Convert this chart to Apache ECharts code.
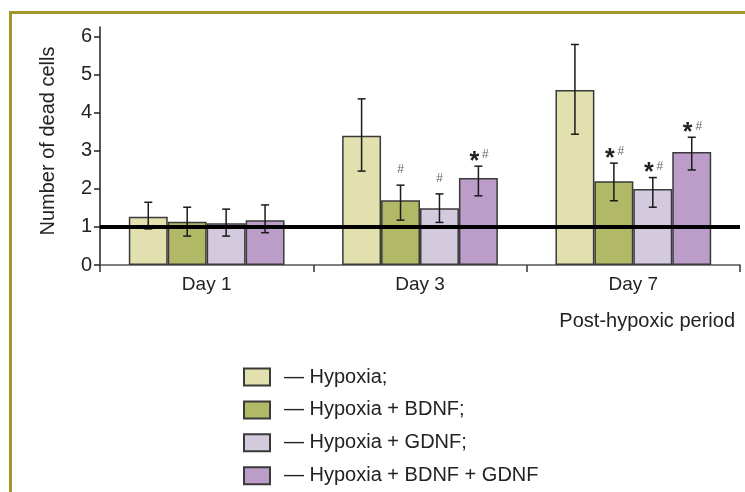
<!DOCTYPE html>
<html>
<head>
<meta charset="utf-8">
<script src="https://cdn.jsdelivr.net/npm/echarts@6/dist/echarts.min.js"></script>
<style>
html,body{margin:0;padding:0;background:#fff;}
#chart{width:745px;height:492px;}
</style>
</head>
<body>
<div id="chart"></div>
<script>
var categories = ['Day 1', 'Day 3', 'Day 7'];
var seriesNames = ['\u2014 Hypoxia;', '\u2014 Hypoxia + BDNF;', '\u2014 Hypoxia + GDNF;', '\u2014 Hypoxia + BDNF + GDNF'];
var hypoxia = [1.27, 3.40, 4.60];
var hypoxiaHigh = [1.65, 4.37, 5.80];
var hypoxiaLow = [0.95, 2.47, 3.44];
var bdnf = [1.14, 1.70, 2.20];
var bdnfHigh = [1.52, 2.10, 2.68];
var bdnfLow = [0.76, 1.18, 1.69];
var gdnf = [1.10, 1.49, 2.00];
var gdnfHigh = [1.47, 1.87, 2.30];
var gdnfLow = [0.76, 1.12, 1.52];
var both = [1.18, 2.29, 2.97];
var bothHigh = [1.58, 2.60, 3.36];
var bothLow = [0.85, 1.82, 2.50];
var hypoxiaMarks = ['', '', ''];
var bdnfMarks = ['', '#', '*#'];
var gdnfMarks = ['', '#', '*#'];
var bothMarks = ['', '*#', '*#'];
var yTicks = [0, 1, 2, 3, 4, 5, 6];
var referenceLevel = 1;
var xAxisTitle = 'Post-hypoxic period';
var yAxisTitle = 'Number of dead cells';

var colors = ['#e1e0ae', '#b1b967', '#d4cade', '#bc9dc9'];
var values = [hypoxia, bdnf, gdnf, both];
var highs = [hypoxiaHigh, bdnfHigh, gdnfHigh, bothHigh];
var lows = [hypoxiaLow, bdnfLow, gdnfLow, bothLow];
var marks = [hypoxiaMarks, bdnfMarks, gdnfMarks, bothMarks];
var FONT = '"Liberation Sans", Arial, sans-serif';
var GAP = 0.27;

var errData = [];
for (var s = 0; s < 4; s++) {
  for (var c = 0; c < categories.length; c++) {
    errData.push([c, s, lows[s][c], highs[s][c], marks[s][c]]);
  }
}

var series = [];
for (var i = 0; i < 4; i++) {
  series.push({
    name: seriesNames[i],
    type: 'bar',
    data: values[i],
    barGap: '0%',
    barCategoryGap: (GAP * 100) + '%',
    itemStyle: { color: colors[i], borderColor: '#3a3a3a', borderWidth: 1.5 },
    emphasis: { disabled: true },
    z: 2
  });
}
series.push({
  type: 'custom',
  data: errData,
  z: 4,
  silent: true,
  renderItem: function (params, api) {
    var c = api.value(0), s = api.value(1);
    var band = api.size([1, 0])[0];
    var groupW = band * (1 - GAP);
    var bw = groupW / 4;
    var center = api.coord([c, 0])[0];
    var x = center - groupW / 2 + bw * (s + 0.5);
    var yLo = api.coord([c, api.value(2)])[1];
    var yHi = api.coord([c, api.value(3)])[1];
    var cap = 4;
    var st = { stroke: '#1a1a1a', lineWidth: 1.5 };
    var children = [
      { type: 'line', shape: { x1: x, y1: yLo, x2: x, y2: yHi }, style: st },
      { type: 'line', shape: { x1: x - cap, y1: yHi, x2: x + cap, y2: yHi }, style: st },
      { type: 'line', shape: { x1: x - cap, y1: yLo, x2: x + cap, y2: yLo }, style: st }
    ];
    var m = api.value(4);
    if (m) {
      if (m.indexOf('*') >= 0) {
        children.push({
          type: 'text',
          style: { x: x - 4, y: yHi - 4, text: '*', align: 'center', verticalAlign: 'middle',
                   fontSize: 25, fontFamily: FONT, fill: '#222', fontWeight: 'bold' }
        });
        children.push({
          type: 'text',
          style: { x: x + 7, y: yHi - 11, text: '#', align: 'center', verticalAlign: 'middle',
                   fontSize: 12, fontFamily: FONT, fill: '#666' }
        });
      } else {
        children.push({
          type: 'text',
          style: { x: x, y: yHi - 15, text: '#', align: 'center', verticalAlign: 'middle',
                   fontSize: 12, fontFamily: FONT, fill: '#666' }
        });
      }
    }
    return { type: 'group', children: children };
  },
  markLine: {
    silent: true,
    symbol: 'none',
    label: { show: false },
    lineStyle: { color: '#000', width: 4, type: 'solid' },
    data: [{ yAxis: referenceLevel }],
    animation: false
  }
});

var chart = echarts.init(document.getElementById('chart'));
chart.setOption({
  animation: false,
  textStyle: { fontFamily: FONT },
  grid: { left: 100, right: 5, top: 27, bottom: 227, containLabel: false },
  legend: {
    orient: 'vertical',
    left: 243,
    top: 367,
    padding: 0,
    itemWidth: 26,
    itemHeight: 17,
    itemGap: 12.9,
    icon: 'rect',
    selectedMode: false,
    data: seriesNames,
    textStyle: { fontSize: 20, lineHeight: 20, color: '#222', fontFamily: FONT, padding: [0, 0, 0, 9] }
  },
  xAxis: {
    type: 'category',
    data: categories,
    axisLine: { lineStyle: { color: '#555', width: 1.5 } },
    axisTick: { show: true, length: 7, lineStyle: { color: '#333', width: 1.5 } },
    axisLabel: { fontSize: 19, color: '#222', margin: 10, fontFamily: FONT }
  },
  yAxis: {
    type: 'value',
    min: 0,
    max: 6.26,
    interval: 1,
    name: yAxisTitle,
    nameLocation: 'middle',
    nameGap: 42,
    nameTextStyle: { fontSize: 20, color: '#222', fontFamily: FONT, padding: [0, 0, 0, 10] },
    splitLine: { show: false },
    axisLine: { show: true, lineStyle: { color: '#222', width: 1.5 } },
    axisTick: { show: true, length: 6, customValues: yTicks, lineStyle: { color: '#222', width: 1.5 } },
    axisLabel: { fontSize: 20, color: '#222', margin: 8, customValues: yTicks, fontFamily: FONT }
  },
  graphic: [
    {
      type: 'rect', left: 8, top: 10, silent: true,
      shape: { width: 800, height: 600 },
      style: { fill: 'none', stroke: '#a0982c', lineWidth: 3 }
    },
    {
      type: 'text', right: 10, top: 311, silent: true,
      style: { text: xAxisTitle, fontSize: 20, fill: '#222', fontFamily: FONT }
    }
  ],
  series: series
});
</script>
</body>
</html>
